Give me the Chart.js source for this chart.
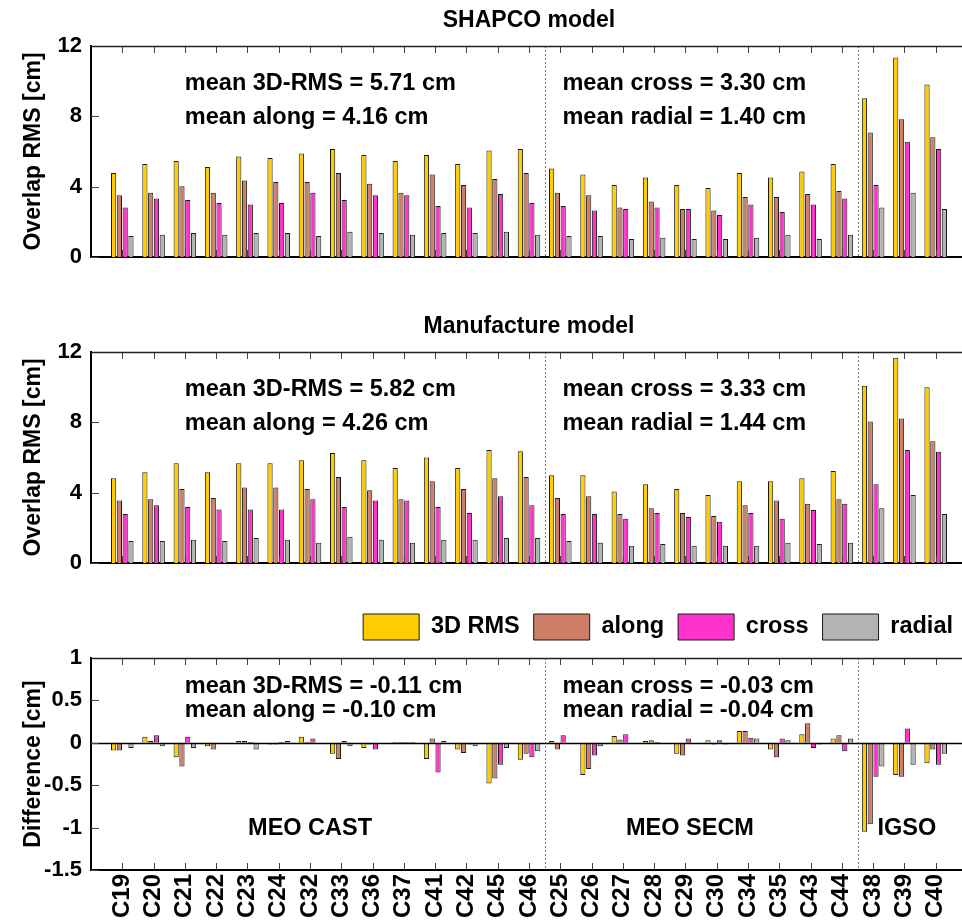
<!DOCTYPE html>
<html><head><meta charset="utf-8">
<script src="https://cdn.jsdelivr.net/npm/chart.js@4.4.1/dist/chart.umd.min.js"></script>
<style>
html,body{margin:0;padding:0;background:#fff;overflow:hidden;width:962px;height:924px;position:relative;}
canvas{position:absolute;left:0;}
</style></head><body>
<canvas id="c1" width="967" height="280" style="top:0px"></canvas>
<canvas id="c2" width="967" height="280" style="top:306px"></canvas>
<canvas id="c3" width="967" height="324" style="top:600px"></canvas>
<script>
// ---------- data ----------
const categories = ['C19','C20','C21','C22','C23','C24','C32','C33','C36','C37','C41','C42','C45','C46',
                    'C25','C26','C27','C28','C29','C30','C34','C35','C43','C44','C38','C39','C40'];
const seriesNames = ['3D RMS','along','cross','radial'];

const shapco3D     = [4.78,5.29,5.46,5.12,5.71,5.63,5.88,6.14,5.80,5.46,5.80,5.29,6.05,6.14,5.03,4.69,4.10,4.52,4.10,3.93,4.78,4.52,4.86,5.29,9.03,11.34,9.81];
const shapcoAlong  = [3.51,3.66,4.02,3.66,4.35,4.27,4.27,4.78,4.17,3.66,4.69,4.10,4.44,4.78,3.66,3.51,2.81,3.15,2.73,2.64,3.41,3.41,3.58,3.75,7.08,7.83,6.81];
const shapcoCross  = [2.81,3.32,3.24,3.07,2.98,3.07,3.66,3.24,3.51,3.51,2.90,2.81,3.58,3.07,2.90,2.64,2.73,2.81,2.73,2.39,2.98,2.56,2.98,3.32,4.10,6.56,6.14];
const shapcoRadial = [1.19,1.27,1.37,1.27,1.37,1.37,1.19,1.44,1.37,1.27,1.37,1.37,1.44,1.27,1.19,1.19,1.02,1.10,1.02,1.02,1.10,1.27,1.02,1.27,2.81,3.66,2.73];

const manu3D     = [4.82,5.16,5.67,5.16,5.67,5.67,5.84,6.25,5.84,5.40,6.00,5.40,6.42,6.35,4.99,4.99,4.06,4.48,4.21,3.87,4.65,4.65,4.82,5.23,10.08,11.67,9.99];
const manuAlong  = [3.55,3.63,4.21,3.70,4.30,4.30,4.21,4.89,4.14,3.63,4.65,4.21,4.82,4.89,3.70,3.80,2.78,3.12,2.85,2.68,3.29,3.55,3.37,3.63,8.05,8.22,6.93];
const manuCross  = [2.78,3.29,3.19,3.04,3.04,3.04,3.63,3.19,3.55,3.55,3.19,2.85,3.80,3.29,2.78,2.78,2.51,2.85,2.61,2.34,2.85,2.51,3.02,3.37,4.48,6.42,6.32];
const manuRadial = [1.25,1.25,1.32,1.25,1.42,1.32,1.15,1.49,1.32,1.15,1.32,1.32,1.42,1.42,1.25,1.15,0.98,1.08,0.98,0.98,0.98,1.15,1.08,1.15,3.12,3.87,2.78];

const diff3D     = [-0.09,0.07,-0.17,-0.04,0.02,-0.02,0.07,-0.13,-0.06,0.01,-0.19,-0.08,-0.48,-0.20,0.02,-0.38,0.08,0.02,-0.13,0.03,0.14,-0.08,0.10,0.05,-1.05,-0.38,-0.24];
const diffAlong  = [-0.09,0.02,-0.28,-0.08,0.02,-0.02,0.01,-0.19,-0.02,0.01,0.05,-0.12,-0.42,-0.13,-0.08,-0.31,0.04,0.03,-0.15,-0.02,0.14,-0.17,0.23,0.09,-0.96,-0.40,-0.08];
const diffCross  = [0.00,0.09,0.07,0.00,0.01,0.01,0.05,0.02,-0.08,0.01,-0.35,-0.02,-0.26,-0.17,0.09,-0.15,0.10,0.01,0.05,0.03,0.06,0.05,-0.06,-0.10,-0.40,0.17,-0.26];
const diffRadial = [-0.06,-0.04,-0.06,0.00,-0.08,0.02,0.00,-0.04,0.00,0.01,0.02,-0.04,-0.06,-0.10,0.00,-0.04,0.00,0.00,0.00,-0.02,0.05,0.03,-0.02,0.05,-0.28,-0.26,-0.13];

const rmsTicks  = [0, 4, 8, 12];
const diffTicks = [-1.5, -1, -0.5, 0, 0.5, 1];
const groupLabels = ['MEO CAST', 'MEO SECM', 'IGSO'];

// ---------- styling ----------
const FONT = "'Liberation Sans', Arial, Helvetica, sans-serif";
const COLORS = ['#FFCC00', '#CC7F66', '#FF33CC', '#B3B3B3'];
Chart.defaults.font.family = FONT;
Chart.defaults.font.weight = 'bold';
Chart.defaults.color = '#000';

const padLabels = [''].concat(categories, ['']);
const pad = arr => [null].concat(arr, [null]);

const framePlugin = {
  id: 'frame',
  beforeDatasetsDraw(chart, args, o) {
    const {ctx, chartArea: a, scales: {x}} = chart;
    ctx.save();
    ctx.strokeStyle = '#7a7a7a'; ctx.lineWidth = 1; ctx.setLineDash([2, 2]);
    (o.separators || []).forEach(s => {
      const px = Math.round(x.getPixelForValue(s)) + 0.5;
      ctx.beginPath(); ctx.moveTo(px, a.top); ctx.lineTo(px, a.bottom); ctx.stroke();
    });
    ctx.restore();
  },
  afterDatasetsDraw(chart, args, o) {
    const {ctx, chartArea: a, scales: {x, y}} = chart;
    ctx.save();
    if (o.zero) {
      const py = Math.round(y.getPixelForValue(0)) + 0.5;
      ctx.strokeStyle = '#000'; ctx.lineWidth = 1.5;
      ctx.beginPath(); ctx.moveTo(a.left, py); ctx.lineTo(a.right, py); ctx.stroke();
    }
    // inward tick marks
    ctx.strokeStyle = '#444'; ctx.lineWidth = 1;
    for (let i = 1; i <= categories.length; i++) {
      const px = Math.round(x.getPixelForValue(i)) + 0.5;
      ctx.beginPath();
      ctx.moveTo(px, a.top); ctx.lineTo(px, a.top + 7);
      ctx.moveTo(px, a.bottom); ctx.lineTo(px, a.bottom - 7);
      ctx.stroke();
    }
    y.ticks.forEach(t => {
      const py = Math.round(y.getPixelForValue(t.value)) + 0.5;
      ctx.beginPath(); ctx.moveTo(a.left, py); ctx.lineTo(a.left + 8, py); ctx.stroke();
    });
    // top border
    ctx.strokeStyle = '#222'; ctx.lineWidth = 1.5;
    ctx.beginPath(); ctx.moveTo(a.left, a.top + 0.5); ctx.lineTo(a.right, a.top + 0.5); ctx.stroke();
    // texts
    ctx.fillStyle = '#000';
    ctx.textAlign = 'left'; ctx.textBaseline = 'alphabetic';
    ctx.font = "bold 23.5px " + FONT;
    (o.notes || []).forEach(n => {
      ctx.fillText(n.text, x.getPixelForValue(n.at), a.top + n.dy);
    });
    if (o.title) {
      ctx.font = "bold 23px " + FONT;
      ctx.textAlign = 'center'; ctx.textBaseline = 'middle';
      ctx.fillText(o.title, (a.left + a.right) / 2, o.titleY);
    }
    ctx.restore();
  }
};

function makePanel(id, cfg) {
  const datasets = cfg.series.map((s, i) => ({
    label: seriesNames[i],
    data: pad(s),
    backgroundColor: COLORS[i],
    borderColor: '#1a1a1a',
    borderWidth: 1,
    categoryPercentage: 0.74,
    barPercentage: 0.9
  }));
  const scales = {
    x: {
      type: 'category', labels: padLabels, offset: false, position: 'bottom',
      grid: {display: false, drawTicks: false},
      border: {display: true, color: '#000', width: 2},
      ticks: cfg.showLabels ? {
        display: true, autoSkip: false, maxRotation: 90, minRotation: 90, padding: 4,
        font: {size: 24, weight: 'bold'}, color: '#000'
      } : {display: false},
      afterFit: s => { s.height = cfg.xHeight; s.paddingLeft = 0; s.paddingRight = 0; }
    },
    y: {
      min: cfg.yMin, max: cfg.yMax,
      afterBuildTicks: s => { s.ticks = cfg.yTicks.map(v => ({value: v})); },
      grid: {display: false, drawTicks: false},
      border: {display: true, color: '#000', width: 2},
      ticks: {padding: 9, font: {size: 22, weight: 'bold'}, color: '#000', callback: v => String(v)},
      title: {display: true, text: cfg.yTitle, font: {size: 23, weight: 'bold'}, color: '#000', padding: {top: 20, bottom: 0}},
      afterFit: s => { s.width = 91; s.paddingTop = 0; s.paddingBottom = 0; }
    }
  };
  if (cfg.topAxis) {
    scales.x2 = {
      type: 'category', labels: padLabels, position: 'top', offset: false,
      grid: {display: false, drawTicks: false}, border: {display: false},
      ticks: {display: false},
      afterFit: s => { s.height = cfg.topAxis; s.paddingLeft = 0; s.paddingRight = 0; }
    };
  }
  return new Chart(document.getElementById(id), {
    type: 'bar',
    data: {labels: padLabels, datasets},
    options: {
      responsive: false, animation: false,
      layout: {padding: {top: cfg.padTop, left: 0, right: 0, bottom: 0}},
      scales,
      plugins: {
        legend: cfg.legend ? {
          display: true, position: 'top', align: 'end',
          labels: {boxWidth: 56, boxHeight: 26, padding: 14, color: '#000', font: {size: 23.5, weight: 'bold'}}
        } : {display: false},
        tooltip: {enabled: false},
        frame: {separators: [14.5, 24.5], zero: cfg.zero, notes: cfg.notes, title: cfg.title, titleY: cfg.titleY}
      }
    },
    plugins: [framePlugin]
  });
}

makePanel('c1', {
  series: [shapco3D, shapcoAlong, shapcoCross, shapcoRadial],
  yMin: 0, yMax: 12, yTicks: rmsTicks, yTitle: 'Overlap RMS [cm]',
  padTop: 46, xHeight: 23, title: 'SHAPCO model', titleY: 21,
  notes: [
    {text: 'mean 3D-RMS = 5.71 cm', at: 3.0, dy: 44},
    {text: 'mean along = 4.16 cm', at: 3.0, dy: 78},
    {text: 'mean cross = 3.30 cm', at: 15.07, dy: 44},
    {text: 'mean radial = 1.40 cm', at: 15.07, dy: 78}
  ]
});
makePanel('c2', {
  series: [manu3D, manuAlong, manuCross, manuRadial],
  yMin: 0, yMax: 12, yTicks: rmsTicks, yTitle: 'Overlap RMS [cm]',
  padTop: 46, xHeight: 23, title: 'Manufacture model', titleY: 21,
  notes: [
    {text: 'mean 3D-RMS = 5.82 cm', at: 3.0, dy: 44},
    {text: 'mean along = 4.26 cm', at: 3.0, dy: 78},
    {text: 'mean cross = 3.33 cm', at: 15.07, dy: 44},
    {text: 'mean radial = 1.44 cm', at: 15.07, dy: 78}
  ]
});
makePanel('c3', {
  series: [diff3D, diffAlong, diffCross, diffRadial],
  yMin: -1.5, yMax: 1, yTicks: diffTicks, yTitle: 'Difference [cm]',
  padTop: 0, xHeight: 54, legend: true, topAxis: 8, zero: true, showLabels: true,
  notes: [
    {text: 'mean 3D-RMS = -0.11 cm', at: 3.0, dy: 35},
    {text: 'mean along = -0.10 cm', at: 3.0, dy: 59},
    {text: 'mean cross = -0.03 cm', at: 15.07, dy: 35},
    {text: 'mean radial = -0.04 cm', at: 15.07, dy: 59},
    {text: groupLabels[0], at: 5.02, dy: 177},
    {text: groupLabels[1], at: 17.1, dy: 177},
    {text: groupLabels[2], at: 25.14, dy: 177}
  ]
});
</script>
</body></html>
